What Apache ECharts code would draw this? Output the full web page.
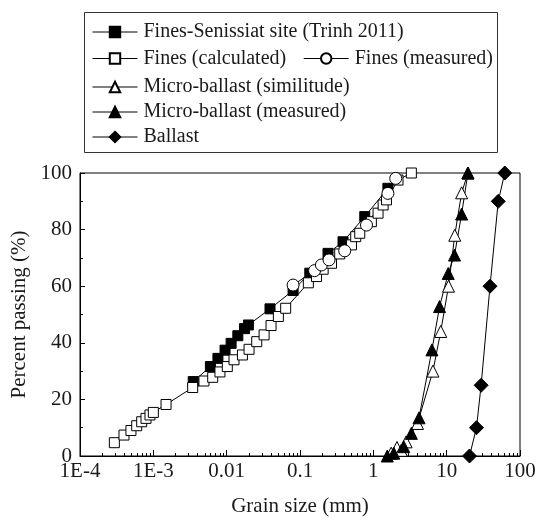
<!DOCTYPE html>
<html>
<head>
<meta charset="utf-8">
<script src="https://cdn.jsdelivr.net/npm/echarts@6/dist/echarts.min.js"></script>
<style>html,body{margin:0;padding:0;background:#fff}#c{width:541px;height:526px}</style>
</head>
<body>
<div id="c"></div>
<script>
// ---- data (grain size in mm, percent passing) ----
const seriesNames = ['Fines-Senissiat site (Trinh 2011)', 'Fines (calculated)', 'Fines (measured)',
  'Micro-ballast (similitude)', 'Micro-ballast (measured)', 'Ballast'];

const senissiatX = [0.0035, 0.0060, 0.0076, 0.0095, 0.0115, 0.0142, 0.0175, 0.0198, 0.039, 0.0805, 0.136, 0.241, 0.386, 0.764, 1.58];
const senissiatY = [26.3, 31.6, 34.5, 37.4, 39.8, 42.5, 45.0, 46.3, 52.0, 58.5, 64.6, 71.6, 75.7, 84.6, 94.6];

const finesCalcX = [0.000294, 0.000398, 0.000495, 0.000593, 0.000694, 0.000794, 0.00090, 0.00100, 0.00149, 0.00344,
  0.0049, 0.00645, 0.0081, 0.0102, 0.0126, 0.0164, 0.0202, 0.0257, 0.0324, 0.0403, 0.0507, 0.0638,
  0.13, 0.168, 0.207, 0.269, 0.348, 0.503, 0.575, 0.653, 0.94, 1.16, 1.36, 1.51, 2.17, 3.3];
const finesCalcY = [4.7, 7.4, 9.0, 10.7, 12.1, 13.3, 14.5, 15.4, 18.2, 24.2,
  26.5, 27.8, 29.7, 31.6, 34.0, 35.7, 37.7, 40.4, 42.8, 46.1, 49.3, 52.2,
  61.2, 63.4, 66.0, 68.1, 71.4, 74.6, 77.5, 78.7, 82.8, 85.8, 88.7, 90.5, 97.5, 100];

const finesMeasX = [0.0805, 0.158, 0.196, 0.249, 0.407, 0.807, 1.58, 2.02];
const finesMeasY = [60.4, 65.5, 67.5, 69.3, 72.5, 81.6, 92.8, 98.1];

const microSimX = [1.75, 2.1, 2.4, 2.8, 4.0, 6.5, 8.3, 10.6, 12.9, 16.0, 19.5];
const microSimY = [1.0, 3.0, 2.0, 5.0, 11.5, 30.0, 44.0, 60.0, 78.0, 93.0, 100];

const microMeasX = [1.55, 1.9, 2.6, 3.3, 4.2, 6.3, 8.0, 10.5, 12.8, 16.0, 19.5];
const microMeasY = [0, 1.0, 3.3, 8.0, 13.5, 37.5, 52.8, 64.5, 71.0, 85.5, 100];

const ballastX = [20.5, 25.5, 29.5, 39, 50.5, 62];
const ballastY = [0, 10, 25, 60, 90, 100];

const xTickLabels = ['1E-4', '1E-3', '0.01', '0.1', '1', '10', '100'];
const xMinExp = -4, xMaxExp = 2;

// minor tick positions for the log axis (2..9 x 10^k)
const minorTicks = [];
for (let e = xMinExp; e < xMaxExp; e++) for (let m = 2; m <= 9; m++) minorTicks.push([m * Math.pow(10, e), 0]);

const zip = (xs, ys) => xs.map((x, i) => [x, ys[i]]);

const FONT = "'Liberation Serif', 'DejaVu Serif', serif";
const TXT = '#1a1a1a';

function lineSeries(name, xs, ys, symbol, size, filled) {
  return {
    name, type: 'line', data: zip(xs, ys), symbol, symbolSize: size,
    lineStyle: { color: '#000', width: 1 },
    itemStyle: { color: filled ? '#000' : '#fff', borderColor: '#000', borderWidth: 1 },
    emphasis: { disabled: true }, animation: false
  };
}

function legendAt(names, left, top, gap) {
  return {
    data: names, left, top, orient: 'horizontal', itemGap: gap || 10, padding: 0,
    itemWidth: 45, itemHeight: 13, selectedMode: false,
    textStyle: { fontFamily: FONT, fontSize: 20, color: TXT, padding: [0, 0, 0, 1] },
    lineStyle: { color: '#000', width: 1 }
  };
}

const chart = echarts.init(document.getElementById('c'), null, { renderer: 'canvas' });
chart.setOption({
  animation: false,
  backgroundColor: '#fff',
  grid: { left: 80, right: 21, top: 173, bottom: 70, show: true, borderColor: '#000', borderWidth: 1 },
  graphic: [{ type: 'rect', shape: { x: 84.5, y: 12.5, width: 413, height: 140 }, style: { fill: 'none', stroke: '#333', lineWidth: 1 }, z: 100 }],
  legend: [
    legendAt([seriesNames[0]], 92, 22),
    legendAt([seriesNames[1], seriesNames[2]], 92, 48.5, 17),
    legendAt([seriesNames[3]], 92, 77),
    legendAt([seriesNames[4]], 92, 102),
    legendAt([seriesNames[5]], 92, 127)
  ],
  xAxis: {
    type: 'log', logBase: 10, min: Math.pow(10, xMinExp), max: Math.pow(10, xMaxExp),
    name: 'Grain size (mm)', nameLocation: 'middle', nameGap: 40,
    nameTextStyle: { fontFamily: FONT, fontSize: 21, color: TXT },
    axisLine: { lineStyle: { color: '#000', width: 1 } },
    axisTick: { inside: true, length: 6, lineStyle: { color: '#000' } },
    axisLabel: {
      fontFamily: FONT, fontSize: 21, color: TXT, margin: 5,
      formatter: v => xTickLabels[Math.round(Math.log10(v)) - xMinExp]
    },
    splitLine: { show: false }
  },
  yAxis: {
    type: 'value', min: 0, max: 100, interval: 20,
    name: 'Percent passing (%)', nameLocation: 'middle', nameGap: 43,
    nameTextStyle: { fontFamily: FONT, fontSize: 21, color: TXT },
    axisLine: { lineStyle: { color: '#000', width: 1 } },
    axisTick: { inside: true, length: 5, lineStyle: { color: '#000' } },
    minorTick: { show: true, splitNumber: 2, length: 3, lineStyle: { color: '#000' } },
    axisLabel: { fontFamily: FONT, fontSize: 21, color: TXT, margin: 8 },
    splitLine: { show: false }
  },
  series: [
    {
      type: 'custom', silent: true, data: minorTicks, clip: false, z: 1,
      renderItem: (params, api) => {
        const p = api.coord([api.value(0), 0]);
        const x = Math.round(p[0]) + 0.5;
        return { type: 'line', shape: { x1: x, y1: p[1], x2: x, y2: p[1] - 3 }, style: { stroke: '#000', lineWidth: 1 } };
      }
    },
    lineSeries(seriesNames[0], senissiatX, senissiatY, 'rect', 10, true),
    lineSeries(seriesNames[1], finesCalcX, finesCalcY, 'rect', 10, false),
    lineSeries(seriesNames[2], finesMeasX, finesMeasY, 'circle', 12, false),
    lineSeries(seriesNames[3], microSimX, microSimY, 'triangle', 12, false),
    lineSeries(seriesNames[4], microMeasX, microMeasY, 'triangle', 12, true),
    lineSeries(seriesNames[5], ballastX, ballastY, 'diamond', 14, true)
  ]
});
</script>
</body>
</html>
